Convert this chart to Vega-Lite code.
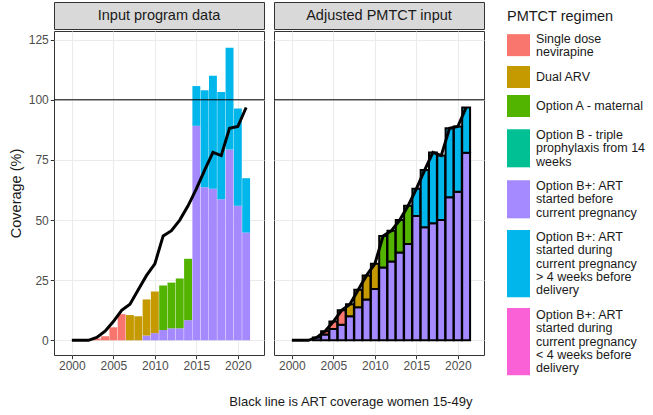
{
  "$schema": "https://vega.github.io/schema/vega-lite/v6.json",
  "padding": {"left": 7, "top": 1, "right": 2, "bottom": 1},
  "config": {
    "font": "Liberation Sans",
    "view": {"stroke": "#333333", "strokeWidth": 1},
    "concat": {"spacing": 8}
  },
  "title": {"text": "Black line is ART coverage women 15-49y", "orient": "bottom", "anchor": "middle", "fontSize": 13, "fontWeight": "normal", "color": "#1A1A1A", "offset": 12, "dx": 20},
  "datasets": {
    "regimens": [
      {"regimen": "Option B+: ART started before current pregnancy", "stack": 1},
      {"regimen": "Option B+: ART started during current pregnancy > 4 weeks before delivery", "stack": 2},
      {"regimen": "Option B+: ART started during current pregnancy < 4 weeks before delivery", "stack": 3},
      {"regimen": "Option B - triple prophylaxis from 14 weeks", "stack": 4},
      {"regimen": "Option A - maternal", "stack": 5},
      {"regimen": "Dual ARV", "stack": 6},
      {"regimen": "Single dose nevirapine", "stack": 7}
    ],
    "art": [
      {"year": 2000, "coverage": 0}, {"year": 2001, "coverage": 0}, {"year": 2002, "coverage": 0},
      {"year": 2003, "coverage": 1.2}, {"year": 2004, "coverage": 3.8}, {"year": 2005, "coverage": 7.8},
      {"year": 2006, "coverage": 12.5}, {"year": 2007, "coverage": 15}, {"year": 2008, "coverage": 21},
      {"year": 2009, "coverage": 27}, {"year": 2010, "coverage": 31.8}, {"year": 2011, "coverage": 43.4},
      {"year": 2012, "coverage": 45.6}, {"year": 2013, "coverage": 50}, {"year": 2014, "coverage": 55.9},
      {"year": 2015, "coverage": 63}, {"year": 2016, "coverage": 70.8}, {"year": 2017, "coverage": 78.1},
      {"year": 2018, "coverage": 76.8}, {"year": 2019, "coverage": 88.2}, {"year": 2020, "coverage": 88.9},
      {"year": 2021, "coverage": 96.8}
    ],
    "input": [
      {"year": 2003, "regimen": "Single dose nevirapine", "coverage": 0.8},
      {"year": 2004, "regimen": "Single dose nevirapine", "coverage": 1.7},
      {"year": 2005, "regimen": "Single dose nevirapine", "coverage": 5.4},
      {"year": 2006, "regimen": "Single dose nevirapine", "coverage": 10.9},
      {"year": 2007, "regimen": "Dual ARV", "coverage": 10.5},
      {"year": 2008, "regimen": "Dual ARV", "coverage": 10.0},
      {"year": 2009, "regimen": "Option B+: ART started before current pregnancy", "coverage": 2.0},
      {"year": 2009, "regimen": "Dual ARV", "coverage": 15.0},
      {"year": 2010, "regimen": "Option B+: ART started before current pregnancy", "coverage": 3.0},
      {"year": 2010, "regimen": "Dual ARV", "coverage": 17.3},
      {"year": 2011, "regimen": "Option B+: ART started before current pregnancy", "coverage": 4.3},
      {"year": 2011, "regimen": "Option A - maternal", "coverage": 18.5},
      {"year": 2012, "regimen": "Option B+: ART started before current pregnancy", "coverage": 5.0},
      {"year": 2012, "regimen": "Option A - maternal", "coverage": 19.0},
      {"year": 2013, "regimen": "Option B+: ART started before current pregnancy", "coverage": 5.0},
      {"year": 2013, "regimen": "Option A - maternal", "coverage": 20.7},
      {"year": 2014, "regimen": "Option B+: ART started before current pregnancy", "coverage": 8.4},
      {"year": 2014, "regimen": "Option A - maternal", "coverage": 25.5},
      {"year": 2015, "regimen": "Option B+: ART started before current pregnancy", "coverage": 89.2},
      {"year": 2015, "regimen": "Option B+: ART started during current pregnancy > 4 weeks before delivery", "coverage": 16.5},
      {"year": 2016, "regimen": "Option B+: ART started before current pregnancy", "coverage": 63.6},
      {"year": 2016, "regimen": "Option B+: ART started during current pregnancy > 4 weeks before delivery", "coverage": 40.4},
      {"year": 2017, "regimen": "Option B+: ART started before current pregnancy", "coverage": 63.0},
      {"year": 2017, "regimen": "Option B+: ART started during current pregnancy > 4 weeks before delivery", "coverage": 47.0},
      {"year": 2018, "regimen": "Option B+: ART started before current pregnancy", "coverage": 58.6},
      {"year": 2018, "regimen": "Option B+: ART started during current pregnancy > 4 weeks before delivery", "coverage": 44.6},
      {"year": 2019, "regimen": "Option B+: ART started before current pregnancy", "coverage": 79.3},
      {"year": 2019, "regimen": "Option B+: ART started during current pregnancy > 4 weeks before delivery", "coverage": 42.3},
      {"year": 2020, "regimen": "Option B+: ART started before current pregnancy", "coverage": 55.9},
      {"year": 2020, "regimen": "Option B+: ART started during current pregnancy > 4 weeks before delivery", "coverage": 40.5},
      {"year": 2021, "regimen": "Option B+: ART started before current pregnancy", "coverage": 44.8},
      {"year": 2021, "regimen": "Option B+: ART started during current pregnancy > 4 weeks before delivery", "coverage": 22.6}
    ],
    "adjusted": [
      {"year": 2003, "regimen": "Option B+: ART started before current pregnancy", "coverage": 1.2},
      {"year": 2004, "regimen": "Option B+: ART started before current pregnancy", "coverage": 2.4},
      {"year": 2004, "regimen": "Single dose nevirapine", "coverage": 1.4},
      {"year": 2005, "regimen": "Option B+: ART started before current pregnancy", "coverage": 4.7},
      {"year": 2005, "regimen": "Single dose nevirapine", "coverage": 3.1},
      {"year": 2006, "regimen": "Option B+: ART started before current pregnancy", "coverage": 6.5},
      {"year": 2006, "regimen": "Single dose nevirapine", "coverage": 6.0},
      {"year": 2007, "regimen": "Option B+: ART started before current pregnancy", "coverage": 10.0},
      {"year": 2007, "regimen": "Dual ARV", "coverage": 5.0},
      {"year": 2008, "regimen": "Option B+: ART started before current pregnancy", "coverage": 13.7},
      {"year": 2008, "regimen": "Dual ARV", "coverage": 7.3},
      {"year": 2009, "regimen": "Option B+: ART started before current pregnancy", "coverage": 17.0},
      {"year": 2009, "regimen": "Dual ARV", "coverage": 10.0},
      {"year": 2010, "regimen": "Option B+: ART started before current pregnancy", "coverage": 21.3},
      {"year": 2010, "regimen": "Dual ARV", "coverage": 10.5},
      {"year": 2011, "regimen": "Option B+: ART started before current pregnancy", "coverage": 30.3},
      {"year": 2011, "regimen": "Option A - maternal", "coverage": 13.1},
      {"year": 2012, "regimen": "Option B+: ART started before current pregnancy", "coverage": 32.8},
      {"year": 2012, "regimen": "Option A - maternal", "coverage": 12.8},
      {"year": 2013, "regimen": "Option B+: ART started before current pregnancy", "coverage": 36.5},
      {"year": 2013, "regimen": "Option A - maternal", "coverage": 13.5},
      {"year": 2014, "regimen": "Option B+: ART started before current pregnancy", "coverage": 40.0},
      {"year": 2014, "regimen": "Option A - maternal", "coverage": 15.9},
      {"year": 2015, "regimen": "Option B+: ART started before current pregnancy", "coverage": 51.7},
      {"year": 2015, "regimen": "Option B+: ART started during current pregnancy > 4 weeks before delivery", "coverage": 11.3},
      {"year": 2016, "regimen": "Option B+: ART started before current pregnancy", "coverage": 47.0},
      {"year": 2016, "regimen": "Option B+: ART started during current pregnancy > 4 weeks before delivery", "coverage": 23.8},
      {"year": 2017, "regimen": "Option B+: ART started before current pregnancy", "coverage": 48.7},
      {"year": 2017, "regimen": "Option B+: ART started during current pregnancy > 4 weeks before delivery", "coverage": 29.4},
      {"year": 2018, "regimen": "Option B+: ART started before current pregnancy", "coverage": 50.0},
      {"year": 2018, "regimen": "Option B+: ART started during current pregnancy > 4 weeks before delivery", "coverage": 26.8},
      {"year": 2019, "regimen": "Option B+: ART started before current pregnancy", "coverage": 59.5},
      {"year": 2019, "regimen": "Option B+: ART started during current pregnancy > 4 weeks before delivery", "coverage": 28.7},
      {"year": 2020, "regimen": "Option B+: ART started before current pregnancy", "coverage": 61.8},
      {"year": 2020, "regimen": "Option B+: ART started during current pregnancy > 4 weeks before delivery", "coverage": 27.1},
      {"year": 2021, "regimen": "Option B+: ART started before current pregnancy", "coverage": 78.0},
      {"year": 2021, "regimen": "Option B+: ART started during current pregnancy > 4 weeks before delivery", "coverage": 18.8}
    ]
  },
  "resolve": {"scale": {"color": "shared"}, "legend": {"color": "shared"}},
  "hconcat": [
    {
      "spacing": 0,
      "resolve": {"scale": {"color": "shared"}, "legend": {"color": "shared"}},
      "vconcat": [
        {
          "width": 210, "height": 27,
          "view": {"fill": "#D9D9D9", "stroke": "#333333"},
          "data": {"values": [{"panel": "Input program data"}]},
          "mark": {"type": "text", "fontSize": 14.5, "color": "#1A1A1A"},
          "encoding": {"text": {"field": "panel", "type": "nominal"}}
        },
        {
          "width": 210, "height": 324,
          "layer": [
            {
              "data": {"name": "input"},
              "transform": [{"lookup": "regimen", "from": {"data": {"name": "regimens"}, "key": "regimen", "fields": ["stack"]}}],
              "mark": {"type": "bar", "width": 7.9},
              "encoding": {
                "x": {"field": "year", "type": "quantitative",
                  "scale": {"domain": [1998.45, 2022.55], "nice": false, "zero": false},
                  "axis": {"title": null, "values": [2000, 2002.5, 2005, 2007.5, 2010, 2012.5, 2015, 2017.5, 2020, 2022.5], "format": "d",
                    "labelExpr": "datum.value % 5 === 0 ? datum.label : ''", "labelOverlap": false, "labelFlush": false,
                    "grid": true, "gridColor": "#EBEBEB", "gridWidth": {"condition": {"test": "datum.value % 5 !== 0", "value": 0.55}, "value": 1.1},
                    "tickOpacity": {"condition": {"test": "datum.value % 5 !== 0", "value": 0}, "value": 1},
                    "tickColor": "#333333", "tickSize": 3.7, "domain": false, "labelColor": "#4D4D4D", "labelFontSize": 12, "labelPadding": 2}},
                "y": {"field": "coverage", "type": "quantitative", "stack": "zero",
                  "scale": {"domain": [-6.1, 128.6], "nice": false, "zero": false},
                  "axis": {"title": "Coverage (%)", "values": [0, 12.5, 25, 37.5, 50, 62.5, 75, 87.5, 100, 112.5, 125],
                    "labelExpr": "datum.value % 25 === 0 ? datum.label : ''", "labelOverlap": false, "labelFlush": false,
                    "grid": true, "gridColor": "#EBEBEB", "gridWidth": {"condition": {"test": "datum.value % 25 !== 0", "value": 0.55}, "value": 1.1},
                    "tickOpacity": {"condition": {"test": "datum.value % 25 !== 0", "value": 0}, "value": 1},
                    "tickColor": "#333333", "tickSize": 3.7, "domain": false, "labelColor": "#4D4D4D", "labelFontSize": 12, "labelPadding": 2,
                    "titleFontSize": 14.5, "titleFontWeight": "normal", "titleColor": "#1A1A1A", "titlePadding": 5}},
                "color": {"field": "regimen", "type": "nominal",
                  "scale": {"domain": ["Single dose nevirapine", "Dual ARV", "Option A - maternal", "Option B - triple prophylaxis from 14 weeks", "Option B+: ART started before current pregnancy", "Option B+: ART started during current pregnancy > 4 weeks before delivery", "Option B+: ART started during current pregnancy < 4 weeks before delivery"],
                    "range": ["#F8766D", "#C49A00", "#53B400", "#00C094", "#A58AFF", "#00B6EB", "#FB61D7"]},
                  "legend": {"title": "PMTCT regimen", "titleFontSize": 14.5, "titleFontWeight": "normal", "titleColor": "#1A1A1A", "titlePadding": 3,
                    "labelFontSize": 12.5, "labelColor": "#1A1A1A", "labelLimit": 300, "labelOffset": 6,
                    "symbolType": "square", "symbolSize": 529, "symbolStrokeWidth": 0, "rowPadding": 6, "offset": 14, "padding": 8,
                    "labelExpr": "datum.label == 'Single dose nevirapine' ? ['Single dose', 'nevirapine'] : datum.label == 'Option B - triple prophylaxis from 14 weeks' ? ['Option B - triple', 'prophylaxis from 14', 'weeks'] : datum.label == 'Option B+: ART started before current pregnancy' ? ['Option B+: ART', 'started before', 'current pregnancy'] : datum.label == 'Option B+: ART started during current pregnancy > 4 weeks before delivery' ? ['Option B+: ART', 'started during', 'current pregnancy', '> 4 weeks before', 'delivery'] : datum.label == 'Option B+: ART started during current pregnancy < 4 weeks before delivery' ? ['Option B+: ART', 'started during', 'current pregnancy', '< 4 weeks before', 'delivery'] : datum.label",
                    "encode": {
                      "labels": {"update": {"lineHeight": {"value": 13.3}}},
                      "symbols": {"update": {"shape": {"signal": "datum.value == 'Single dose nevirapine' ? 'M-1,-0.42H1V1.49H-1Z' : indexof(['Option B - triple prophylaxis from 14 weeks', 'Option B+: ART started before current pregnancy'], datum.value) >= 0 ? 'M-1,-0.5H1V2.81H-1Z' : indexof(['Option B+: ART started during current pregnancy > 4 weeks before delivery', 'Option B+: ART started during current pregnancy < 4 weeks before delivery'], datum.value) >= 0 ? 'M-1,-0.6H1V5.23H-1Z' : 'M-1,-0.957H1V0.957H-1Z'"}}}
                    }}},
                "order": {"field": "stack", "type": "quantitative", "sort": "ascending"}
              }
            },
            {
              "data": {"values": [{"ref": 100}]},
              "mark": {"type": "rule", "color": "black", "strokeWidth": 1},
              "encoding": {"y": {"field": "ref", "type": "quantitative"}}
            },
            {
              "data": {"name": "art"},
              "mark": {"type": "line", "color": "black", "strokeWidth": 3},
              "encoding": {"x": {"field": "year", "type": "quantitative"}, "y": {"field": "coverage", "type": "quantitative"}}
            }
          ]
        }
      ]
    },
    {
      "spacing": 0,
      "resolve": {"scale": {"color": "shared"}, "legend": {"color": "shared"}},
      "vconcat": [
        {
          "width": 210, "height": 27,
          "view": {"fill": "#D9D9D9", "stroke": "#333333"},
          "data": {"values": [{"panel": "Adjusted PMTCT input"}]},
          "mark": {"type": "text", "fontSize": 14.5, "color": "#1A1A1A"},
          "encoding": {"text": {"field": "panel", "type": "nominal"}}
        },
        {
          "width": 210, "height": 324,
          "layer": [
            {
              "data": {"name": "adjusted"},
              "transform": [{"lookup": "regimen", "from": {"data": {"name": "regimens"}, "key": "regimen", "fields": ["stack"]}}],
              "mark": {"type": "bar", "width": 7.9, "stroke": "black", "strokeWidth": 2},
              "encoding": {
                "x": {"field": "year", "type": "quantitative",
                  "scale": {"domain": [1998.45, 2022.55], "nice": false, "zero": false},
                  "axis": {"title": null, "values": [2000, 2002.5, 2005, 2007.5, 2010, 2012.5, 2015, 2017.5, 2020, 2022.5], "format": "d",
                    "labelExpr": "datum.value % 5 === 0 ? datum.label : ''", "labelOverlap": false, "labelFlush": false,
                    "grid": true, "gridColor": "#EBEBEB", "gridWidth": {"condition": {"test": "datum.value % 5 !== 0", "value": 0.55}, "value": 1.1},
                    "tickOpacity": {"condition": {"test": "datum.value % 5 !== 0", "value": 0}, "value": 1},
                    "tickColor": "#333333", "tickSize": 3.7, "domain": false, "labelColor": "#4D4D4D", "labelFontSize": 12, "labelPadding": 2}},
                "y": {"field": "coverage", "type": "quantitative", "stack": "zero",
                  "scale": {"domain": [-6.1, 128.6], "nice": false, "zero": false},
                  "axis": {"title": null, "values": [0, 12.5, 25, 37.5, 50, 62.5, 75, 87.5, 100, 112.5, 125],
                    "labels": false, "ticks": false, "domain": false,
                    "grid": true, "gridColor": "#EBEBEB", "gridWidth": {"condition": {"test": "datum.value % 25 !== 0", "value": 0.55}, "value": 1.1}}},
                "color": {"field": "regimen", "type": "nominal",
                  "scale": {"domain": ["Single dose nevirapine", "Dual ARV", "Option A - maternal", "Option B - triple prophylaxis from 14 weeks", "Option B+: ART started before current pregnancy", "Option B+: ART started during current pregnancy > 4 weeks before delivery", "Option B+: ART started during current pregnancy < 4 weeks before delivery"],
                    "range": ["#F8766D", "#C49A00", "#53B400", "#00C094", "#A58AFF", "#00B6EB", "#FB61D7"]}},
                "order": {"field": "stack", "type": "quantitative", "sort": "ascending"}
              }
            },
            {
              "data": {"values": [{"ref": 100}]},
              "mark": {"type": "rule", "color": "black", "strokeWidth": 1},
              "encoding": {"y": {"field": "ref", "type": "quantitative"}}
            },
            {
              "data": {"name": "art"},
              "mark": {"type": "line", "color": "black", "strokeWidth": 3},
              "encoding": {"x": {"field": "year", "type": "quantitative"}, "y": {"field": "coverage", "type": "quantitative"}}
            }
          ]
        }
      ]
    }
  ]
}
